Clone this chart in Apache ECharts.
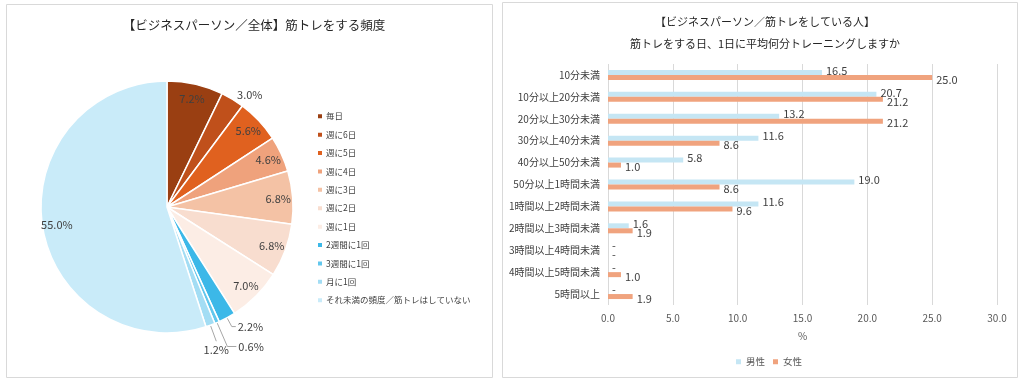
<!DOCTYPE html>
<html><head><meta charset="utf-8">
<script src="https://cdn.jsdelivr.net/npm/echarts@6/dist/echarts.min.js"></script>
<style>html,body{margin:0;padding:0;background:#fff}#c{width:1027px;height:381px}</style>
</head><body><div id="c"></div>
<script>
const pieCategories = ['毎日','週に6日','週に5日','週に4日','週に3日','週に2日','週に1日','2週間に1回','3週間に1回','月に1回','それ未満の頻度／筋トレはしていない'];
const pieValues = [7.2, 3.0, 5.6, 4.6, 6.8, 6.8, 7.0, 2.2, 0.6, 1.2, 55.0];
const pieOutside = [false, true, false, false, false, false, false, true, true, true, false];
const pieColors = ['#9A3F12','#C0501B','#E0611F','#EFA27C','#F4C2A5','#F8DDCF','#FCEDE5','#3CB8E8','#62C7ED','#A3DDF4','#C9EBF9'];

const barCategories = ['10分未満','10分以上20分未満','20分以上30分未満','30分以上40分未満','40分以上50分未満','50分以上1時間未満','1時間以上2時間未満','2時間以上3時間未満','3時間以上4時間未満','4時間以上5時間未満','5時間以上'];
const maleValues = [16.5, 20.7, 13.2, 11.6, 5.8, 19.0, 11.6, 1.6, 0, 0, 0];
const femaleValues = [25.0, 21.2, 21.2, 8.6, 1.0, 8.6, 9.6, 1.9, 0, 1.0, 1.9];
const xTicks = [0, 5, 10, 15, 20, 25, 30];

const FONT = '"Noto Sans CJK JP", "Noto Sans", sans-serif';
const chart = echarts.init(document.getElementById('c'), null, {renderer: 'canvas'});

// leader-line styling for the small outside slices (style only)
const lineStyleFor = {
  1: {length: 5, length2: 0, show: false},
  7: {length: 10, length2: 4, show: true},
  8: {length: 26, length2: 9, show: true},
  9: {length: 17, length2: 0, show: true}
};

const pieMain = pieValues.map((v, i) => ({
  name: pieCategories[i], value: v,
  itemStyle: {color: pieColors[i]},
  label: {show: pieOutside[i]},
  labelLine: pieOutside[i] ? lineStyleFor[i] : {show: false}
}));
const pieInner = pieValues.map((v, i) => ({
  name: pieCategories[i], value: v,
  label: {show: !pieOutside[i]}
}));

chart.setOption({
  textStyle: {fontFamily: FONT},
  graphic: [
    {type: 'rect', shape: {x: 6.5, y: 4.5, width: 486, height: 373}, style: {fill: 'none', stroke: '#d9d9d9', lineWidth: 1}, silent: true},
    {type: 'rect', shape: {x: 502.5, y: 2.5, width: 515, height: 375}, style: {fill: 'none', stroke: '#d9d9d9', lineWidth: 1}, silent: true}
  ],
  title: [
    {text: '【ビジネスパーソン／全体】筋トレをする頻度', left: 249, top: 14, textAlign: 'center',
     textStyle: {fontFamily: FONT, fontSize: 12.5, fontWeight: 'normal', color: '#262626'}},
    {text: '【ビジネスパーソン／筋トレをしている人】\n筋トレをする日、1日に平均何分トレーニングしますか', left: 760, top: 6, textAlign: 'center',
     textStyle: {fontFamily: FONT, fontSize: 11, fontWeight: 'normal', color: '#262626', lineHeight: 22}}
  ],
  legend: [
    {orient: 'vertical', left: 311, top: 107, itemWidth: 6, itemHeight: 6, itemGap: 9.9, icon: 'rect',
     data: pieCategories.map((n, i) => ({name: n, itemStyle: {color: pieColors[i]}})),
     textStyle: {fontFamily: FONT, fontSize: 8.5, color: '#404040', padding: [0, 0, 0, -2]}, selectedMode: false},
    {orient: 'horizontal', left: 731, top: 352, itemWidth: 5, itemHeight: 5, itemGap: 8, icon: 'rect',
     data: ['男性', '女性'], textStyle: {fontFamily: FONT, fontSize: 9.5, color: '#595959', padding: [0, 0, 0, 0]}, selectedMode: false}
  ],
  grid: {left: 608, right: 30, top: 64, bottom: 76},
  xAxis: {
    type: 'value', min: 0, max: 30, interval: 5,
    name: '%', nameLocation: 'middle', nameGap: 26,
    nameTextStyle: {fontFamily: FONT, fontSize: 10, color: '#595959'},
    axisLine: {show: false}, axisTick: {show: false},
    axisLabel: {fontSize: 10, color: '#595959', margin: 8, formatter: v => xTicks.includes(v) ? v.toFixed(1) : ''},
    splitLine: {lineStyle: {color: '#d9d9d9'}}
  },
  yAxis: {
    type: 'category', data: barCategories, inverse: true,
    axisLine: {show: false}, axisTick: {show: false},
    axisLabel: {fontSize: 10, color: '#404040', margin: 8}
  },
  series: [
    {type: 'pie', name: 'pie', center: [167, 207], radius: [0, 126], startAngle: 90, clockwise: true,
     avoidLabelOverlap: false, data: pieMain,
     itemStyle: {borderColor: '#fff', borderWidth: 1.5},
     label: {position: 'outside', formatter: p => p.value.toFixed(1) + '%', fontSize: 11, color: '#404040', distanceToLabelLine: 2},
     labelLine: {lineStyle: {color: '#a6a6a6', width: 1}},
     labelLayout: function (params) {
       // the smallest slice's label sits centred just below the end of its leader line
       if (params.dataIndex === 9 && params.labelLinePoints) {
         const p = params.labelLinePoints;
         return {x: p[1][0], y: p[1][1] + 9, align: 'center', verticalAlign: 'middle',
                 labelLinePoints: [p[0], p[1], p[1]], hideOverlap: false};
       }
       return {hideOverlap: false};
     },
     emphasis: {disabled: true}},
    {type: 'pie', name: 'pieLabels', center: [167, 207], radius: [91, 126], startAngle: 90, clockwise: true,
     avoidLabelOverlap: false, data: pieInner, silent: true,
     itemStyle: {color: 'rgba(0,0,0,0)', borderWidth: 0},
     label: {position: 'inside', formatter: p => p.value.toFixed(1) + '%', fontSize: 11, color: '#404040'},
     labelLine: {show: false}, emphasis: {disabled: true}},
    {type: 'bar', name: '男性', data: maleValues, barWidth: 5, barGap: '0%',
     itemStyle: {color: '#C5E6F4'},
     label: {show: true, position: 'right', fontSize: 11, color: '#404040', distance: 4, offset: [0, -2],
             formatter: p => p.value === 0 ? '-' : p.value.toFixed(1)}},
    {type: 'bar', name: '女性', data: femaleValues, barWidth: 5, barGap: '0%',
     itemStyle: {color: '#F0A37E'},
     label: {show: true, position: 'right', fontSize: 11, color: '#404040', distance: 4, offset: [0, 2],
             formatter: p => p.value === 0 ? '-' : p.value.toFixed(1)}}
  ]
});
</script></body></html>
